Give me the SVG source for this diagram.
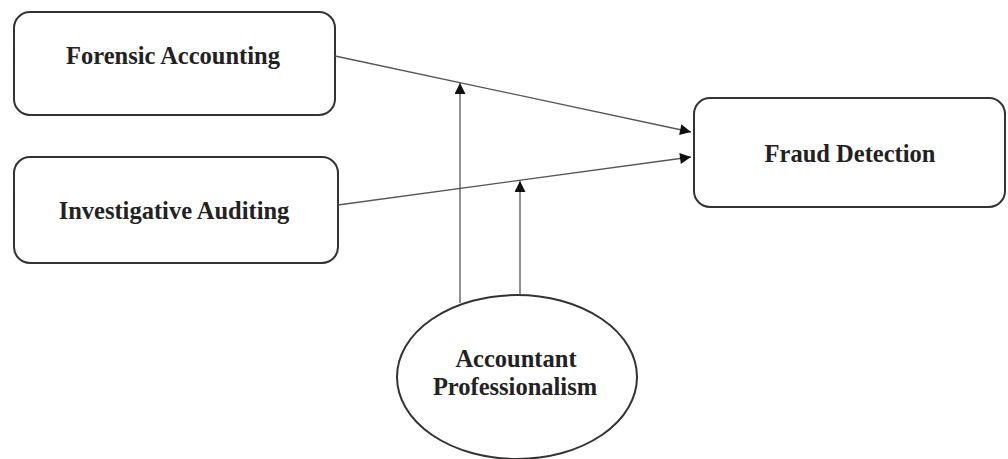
<svg xmlns="http://www.w3.org/2000/svg" width="1008" height="459" viewBox="0 0 1008 459">
<defs>
<marker id="arr" viewBox="0 0 10 10" refX="10" refY="5" markerWidth="12" markerHeight="11" markerUnits="userSpaceOnUse" orient="auto">
<path d="M0,0 L10,5 L0,10 z" fill="#111"/>
</marker>
</defs>
<style>
.box{fill:#fff;stroke:#333;stroke-width:2}
.lbl{font-family:"Liberation Serif",serif;font-weight:bold;font-size:24.5px;fill:#222;text-anchor:middle}
.con{stroke:#555;stroke-width:1.3;fill:none}
</style>
<rect width="1008" height="459" fill="#fff"/>
<g id="forensic">
<rect class="box" x="14" y="12" width="321" height="103" rx="16"/>
<text class="lbl" x="173" y="64">Forensic Accounting</text>
</g>
<g id="investigative">
<rect class="box" x="14" y="157" width="324" height="106" rx="16"/>
<text class="lbl" x="174" y="219">Investigative Auditing</text>
</g>
<g id="fraud">
<rect class="box" x="694" y="98" width="311" height="109" rx="16"/>
<text class="lbl" x="850" y="162">Fraud Detection</text>
</g>
<g id="professionalism">
<ellipse class="box" cx="517" cy="377" rx="120" ry="82"/>
<text class="lbl" x="516" y="367">Accountant</text>
<text class="lbl" x="515" y="395">Professionalism</text>
</g>
<g id="connectors">
<line class="con" x1="335" y1="56" x2="691" y2="132" marker-end="url(#arr)"/>
<line class="con" x1="338" y1="205" x2="691" y2="157" marker-end="url(#arr)"/>
<line class="con" x1="460" y1="303" x2="460" y2="83" marker-end="url(#arr)"/>
<line class="con" x1="520" y1="295" x2="520" y2="181" marker-end="url(#arr)"/>
</g>
</svg>
